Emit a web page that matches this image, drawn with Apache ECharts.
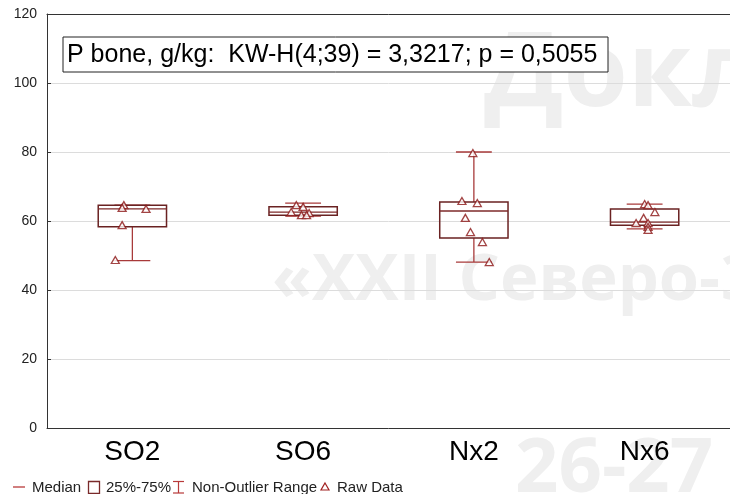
<!DOCTYPE html>
<html>
<head>
<meta charset="utf-8">
<script src="https://cdn.jsdelivr.net/npm/echarts@6/dist/echarts.min.js"></script>
<style>
html,body{margin:0;padding:0;background:#fff;}
#chart{width:730px;height:494px;}
</style>
</head>
<body>
<div id="chart"></div>
<script>
var groups = ['SO2', 'SO6', 'Nx2', 'Nx6'];
// non-outlier min, 25%, median, 75%, non-outlier max
var lows    = [48.5, 61.4, 48.1, 57.7];
var q1s     = [58.3, 61.7, 55.1, 58.8];
var medians = [63.5, 62.6, 62.9, 59.7];
var q3s     = [64.6, 64.1, 65.5, 63.5];
var highs   = [64.6, 65.2, 80.0, 64.9];
// raw data (group index, jitter, value)
var rawGroup  = [0,0,0,0,0, 1,1,1,1,1,1, 2,2,2,2,2,2,2, 3,3,3,3,3,3,3,3];
var rawJitter = [-0.05,-0.06,0.08,-0.06,-0.1, -0.04,0,-0.07,0.035,-0.01,0.02,
                 -0.006,-0.07,0.02,-0.05,-0.02,0.05,0.09,
                 0,0.02,0.06,-0.006,-0.05,0.02,0.02,0.02];
var rawValue  = [64.6,63.8,63.5,58.8,48.7, 64.6,64.1,62.6,62.3,61.7,61.7,
                 79.7,65.8,65.2,60.9,56.8,53.9,48.1,
                 64.9,64.6,62.6,60.9,59.4,59.4,58.3,57.4];
var yTicks = [0, 20, 40, 60, 80, 100, 120];

var boxData = groups.map(function (g, i) {
    return [i, lows[i], q1s[i], medians[i], q3s[i], highs[i]];
});
var rawData = rawValue.map(function (v, i) {
    return [rawGroup[i] + rawJitter[i], v];
});

var dom = document.getElementById('chart');
var myChart = echarts.init(dom);
var font = '"Liberation Sans", Arial, sans-serif';

function renderBox(params, api) {
    var x = api.value(0);
    var pLow = api.coord([x, api.value(1)]);
    var pQ1 = api.coord([x, api.value(2)]);
    var pMed = api.coord([x, api.value(3)]);
    var pQ3 = api.coord([x, api.value(4)]);
    var pHigh = api.coord([x, api.value(5)]);
    var band = api.size([1, 0])[0];
    var bw = band * 0.4, cw = band * 0.21;
    var cx = pMed[0];
    var wStyle = {stroke: '#a83a3a', lineWidth: 1.3};
    var bStyle = {stroke: '#6a2222', lineWidth: 1.5, fill: 'rgba(255,255,255,0)'};
    return {
        type: 'group',
        children: [
            {type: 'line', shape: {x1: cx, y1: pLow[1], x2: cx, y2: pQ1[1]}, style: wStyle},
            {type: 'line', shape: {x1: cx, y1: pQ3[1], x2: cx, y2: pHigh[1]}, style: wStyle},
            {type: 'line', shape: {x1: cx - cw / 2, y1: pLow[1], x2: cx + cw / 2, y2: pLow[1]}, style: wStyle},
            {type: 'line', shape: {x1: cx - cw / 2, y1: pHigh[1], x2: cx + cw / 2, y2: pHigh[1]}, style: wStyle},
            {type: 'rect', shape: {x: cx - bw / 2, y: pQ3[1], width: bw, height: pQ1[1] - pQ3[1]}, style: bStyle},
            {type: 'line', shape: {x1: cx - bw / 2, y1: pMed[1], x2: cx + bw / 2, y2: pMed[1]}, style: {stroke: '#7e2a2a', lineWidth: 1.3}}
        ]
    };
}

var wm = '#efefef';
var wmFont = '"Open Sans", "Noto Sans", sans-serif';
option = {
    backgroundColor: '#fff',
    animation: false,
    grid: {left: 47, top: 14, width: 686, height: 414},
    xAxis: [
        {
            type: 'category',
            data: groups,
            position: 'bottom',
            axisLine: {lineStyle: {color: '#333', width: 1}},
            axisTick: {inside: true, length: 4, alignWithLabel: true, lineStyle: {color: '#333'}},
            axisLabel: {color: '#000', fontSize: 28, fontFamily: font, margin: 10}
        },
        {
            type: 'value',
            min: -0.5, max: 3.5,
            show: false
        },
        {
            type: 'category',
            data: groups,
            position: 'top',
            axisLine: {lineStyle: {color: '#333', width: 1}},
            axisTick: {inside: true, length: 3, alignWithLabel: true, lineStyle: {color: '#333'}},
            axisLabel: {show: false}
        }
    ],
    yAxis: {
        type: 'value',
        min: 0, max: 120, interval: 20,
        axisLine: {show: true, onZero: false, lineStyle: {color: '#333'}},
        axisTick: {show: true, inside: true, length: 4, lineStyle: {color: '#333'}},
        axisLabel: {color: '#222', fontSize: 14, fontFamily: font, margin: 10},
        splitLine: {lineStyle: {color: '#dcdcdc'}}
    },
    graphic: [
        {type: 'text', z: -10, x: 484, y: 24, style: {text: 'Докл', font: 'bold 104px ' + wmFont, fill: wm}},
        {type: 'text', z: -10, x: 272, y: 249, style: {text: '«XXII Северо-З', font: 'bold 65px ' + wmFont, fill: wm}},
        {type: 'text', z: -10, x: 515, y: 432, style: {text: '26-27', font: 'bold 76px ' + wmFont, fill: wm}},
        {
            type: 'group', x: 63, y: 37, z: 100,
            children: [
                {type: 'rect', shape: {x: 0, y: 0, width: 545, height: 35}, style: {fill: '#fff', stroke: '#222', lineWidth: 1}},
                {type: 'text', x: 4, y: 18, style: {text: 'P bone, g/kg:  KW-H(4;39) = 3,3217; p = 0,5055', font: '25px ' + font, fill: '#000', textVerticalAlign: 'middle'}}
            ]
        },
        {
            type: 'group', x: 0, y: 478, z: 100,
            children: [
                {type: 'line', shape: {x1: 13, y1: 9, x2: 25, y2: 9}, style: {stroke: '#b83a3a', lineWidth: 1.3}},
                {type: 'text', x: 32, y: 10, style: {text: 'Median', font: '15px ' + font, fill: '#222', textVerticalAlign: 'middle'}},
                {type: 'rect', shape: {x: 88.5, y: 3.5, width: 11, height: 12}, style: {fill: 'none', stroke: '#7a2a2a', lineWidth: 1.3}},
                {type: 'text', x: 106, y: 10, style: {text: '25%-75%', font: '15px ' + font, fill: '#222', textVerticalAlign: 'middle'}},
                {type: 'line', shape: {x1: 178.5, y1: 3, x2: 178.5, y2: 15}, style: {stroke: '#b83a3a', lineWidth: 1.2}},
                {type: 'line', shape: {x1: 173, y1: 3.5, x2: 184, y2: 3.5}, style: {stroke: '#b83a3a', lineWidth: 1.2}},
                {type: 'line', shape: {x1: 173, y1: 15, x2: 184, y2: 15}, style: {stroke: '#b83a3a', lineWidth: 1.2}},
                {type: 'text', x: 192, y: 10, style: {text: 'Non-Outlier Range', font: '15px ' + font, fill: '#222', textVerticalAlign: 'middle'}},
                {type: 'polygon', shape: {points: [[325, 5], [329, 12], [321, 12]]}, style: {fill: '#fff', stroke: '#a02020', lineWidth: 1.2}},
                {type: 'text', x: 337, y: 10, style: {text: 'Raw Data', font: '15px ' + font, fill: '#222', textVerticalAlign: 'middle'}}
            ]
        }
    ],
    series: [
        {
            name: 'box',
            type: 'custom',
            xAxisIndex: 0,
            renderItem: renderBox,
            data: boxData,
            z: 3
        },
        {
            name: 'Raw Data',
            type: 'scatter',
            xAxisIndex: 1,
            symbol: 'triangle',
            symbolSize: [8, 7],
            itemStyle: {color: '#fff', borderColor: '#8b1515', borderWidth: 1.3},
            data: rawData,
            z: 4
        }
    ]
};
myChart.setOption(option, true);
</script>
</body>
</html>
